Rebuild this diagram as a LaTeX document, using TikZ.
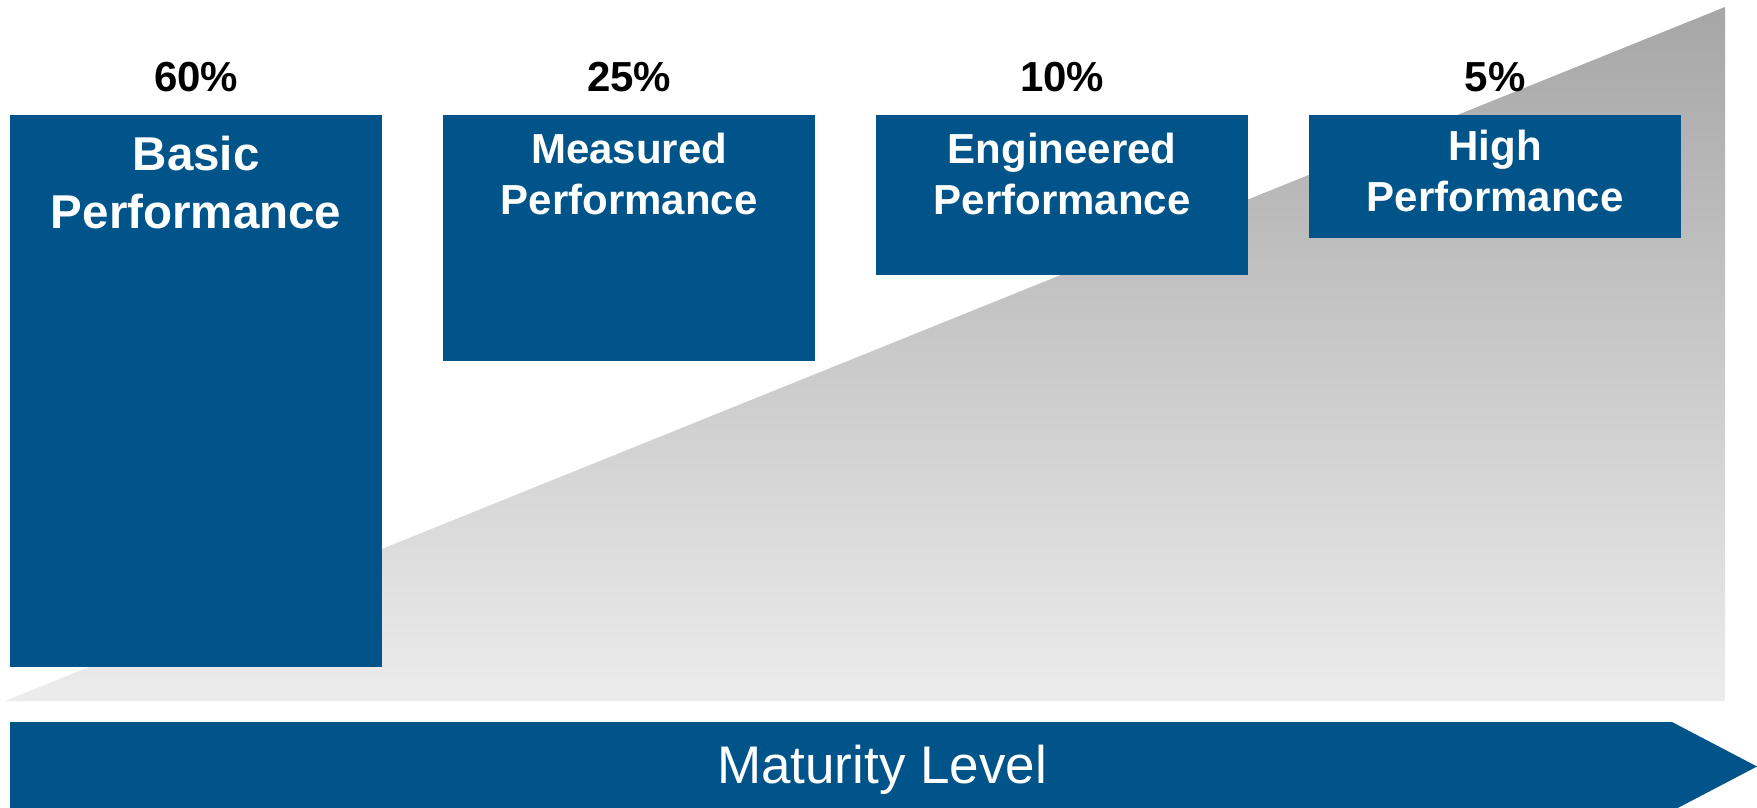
\documentclass[tikz,border=0pt]{standalone}
\usepackage{fontspec}
\setmainfont{Liberation Sans}
\definecolor{navy}{RGB}{0,84,137}
\definecolor{wedgetop}{RGB}{166,166,166}
\definecolor{wedgebot}{RGB}{236,236,236}
\tikzset{
  box/.style={fill=navy, draw=none, inner sep=0pt, anchor=north west, minimum width=372pt},
  pct/.style={anchor=base, inner sep=0pt, font=\fontsize{42}{50}\selectfont\bfseries, text=black},
  lbl/.style={anchor=base, inner sep=0pt, align=center, text=white,
              font=\fontsize{42}{50.5}\selectfont\bfseries},
  biglbl/.style={lbl, font=\fontsize{47.5}{58.3}\selectfont\bfseries},
  axislbl/.style={anchor=base, inner sep=0pt, text=white, font=\fontsize{53}{60}\selectfont}
}
\begin{document}
\begin{tikzpicture}[x=1pt,y=-1pt]
\useasboundingbox (0,0) rectangle (1757,808);

% rising grey wedge behind the boxes
\shade[top color=wedgetop, bottom color=wedgebot]
  (5,701) -- (1725,7) -- (1725,701) -- cycle;

% maturity arrow along the bottom
\coordinate (a1) at (10,722);
\coordinate (a2) at (1672,722);
\coordinate (tip) at (1757,766.5);
\coordinate (a3) at (1672,811);
\coordinate (a4) at (10,811);
\fill[navy] (a1) -- (a2) -- (tip) -- (a3) -- (a4) -- cycle;
\node[axislbl] (axis) at (882,783.7) {Maturity Level};

% the four stages
\node[box, minimum height=551.7pt] (b1) at (10,115) {};
\node[box, minimum height=246pt]   (b2) at (443,115) {};
\node[box, minimum height=159.5pt] (b3) at (876,115) {};
\node[box, minimum height=122.7pt] (b4) at (1309,115) {};

% shares
\node[pct] (p1) at ([yshift=23pt]b1.north) {60\%};
\node[pct] (p2) at ([yshift=23pt]b2.north) {25\%};
\node[pct] (p3) at ([yshift=23pt]b3.north) {10\%};
\node[pct] (p4) at ([yshift=23pt]b4.north) {5\%};

% stage names (base anchor sits on the last line)
\node[biglbl] (t1) at ([yshift=-113.3pt]b1.north) {Basic\\Performance};
\node[lbl]    (t2) at ([yshift=-99.3pt]b2.north) {Measured\\Performance};
\node[lbl]    (t3) at ([yshift=-99.3pt]b3.north) {Engineered\\Performance};
\node[lbl]    (t4) at ([yshift=-96pt]b4.north) {High\\Performance};
\end{tikzpicture}
\end{document}
